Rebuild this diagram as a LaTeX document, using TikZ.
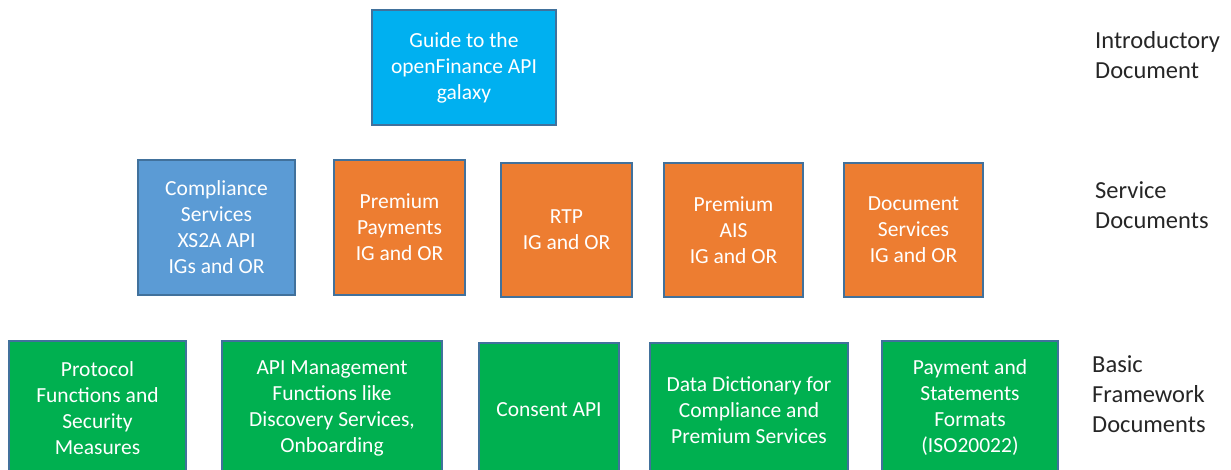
\documentclass[tikz,border=0pt]{standalone}
\usepackage{fontspec}
\setmainfont{Carlito}
\usetikzlibrary{positioning}

\definecolor{introblue}{HTML}{00B0F0}
\definecolor{compblue}{HTML}{5B9BD5}
\definecolor{premorange}{HTML}{ED7D31}
\definecolor{basegreen}{HTML}{00B050}
\definecolor{edgeblue}{HTML}{41719C}

\begin{document}
\begin{tikzpicture}[x=1pt, y=-1pt]
\tikzstyle{box}=[draw=edgeblue, line width=2pt, text=white, align=center, inner sep=0pt, font=\fontsize{21.5}{26}\selectfont]
\tikzstyle{intro}=[box, fill=introblue]
\tikzstyle{comp}=[box, fill=compblue]
\tikzstyle{prem}=[box, fill=premorange]
\tikzstyle{base}=[box, fill=basegreen]
\tikzstyle{level}=[anchor=west, align=left, inner sep=0pt, text=black!85, font=\fontsize{24.5}{30}\selectfont]
\useasboundingbox (0,0) rectangle (1231,470);
% top row
\node[intro, minimum width=184pt, minimum height=115pt] (guide) at (464,67.5) {Guide to the\\openFinance API\\galaxy};
% service row
\node[comp, minimum width=157pt, minimum height=135pt] (xs2a) at (216.5,227.5) {Compliance\\Services\\XS2A API\\IGs and OR};
\node[prem, minimum width=131pt, minimum height=135pt] (payments) at (399.5,227.5) {Premium\\Payments\\IG and OR};
\node[prem, minimum width=131pt, minimum height=134pt] (rtp) at (566.5,230) {RTP\\IG and OR};
\node[prem, minimum width=139pt, minimum height=134pt] (ais) at (733.5,230) {Premium\\AIS\\IG and OR};
\node[prem, minimum width=139pt, minimum height=134pt] (docs) at (913.5,230) {Document\\Services\\IG and OR};
% basic framework row
\node[base, minimum width=177pt, minimum height=134pt] (protocol) at (97.5,408) {Protocol\\Functions and\\Security\\Measures};
\node[base, minimum width=220pt, minimum height=134pt] (apimgmt) at (332,408) {API Management\\Functions like\\Discovery Services,\\Onboarding};
\node[base, minimum width=140pt, minimum height=134pt] (consent) at (549,410) {Consent API};
\node[base, minimum width=198pt, minimum height=134pt] (dictionary) at (749,410) {Data Dictionary for\\Compliance and\\Premium Services};
\node[base, minimum width=176pt, minimum height=134pt] (formats) at (970,408) {Payment and\\Statements\\Formats\\(ISO20022)};
% level labels
\node[level] (introlabel) at (1095,55) {Introductory\\Document};
\node[level] (servicelabel) at (1095,205.5) {Service\\Documents};
\node[level] (baselabel) at (1092,394) {Basic\\Framework\\Documents};
\end{tikzpicture}
\end{document}
